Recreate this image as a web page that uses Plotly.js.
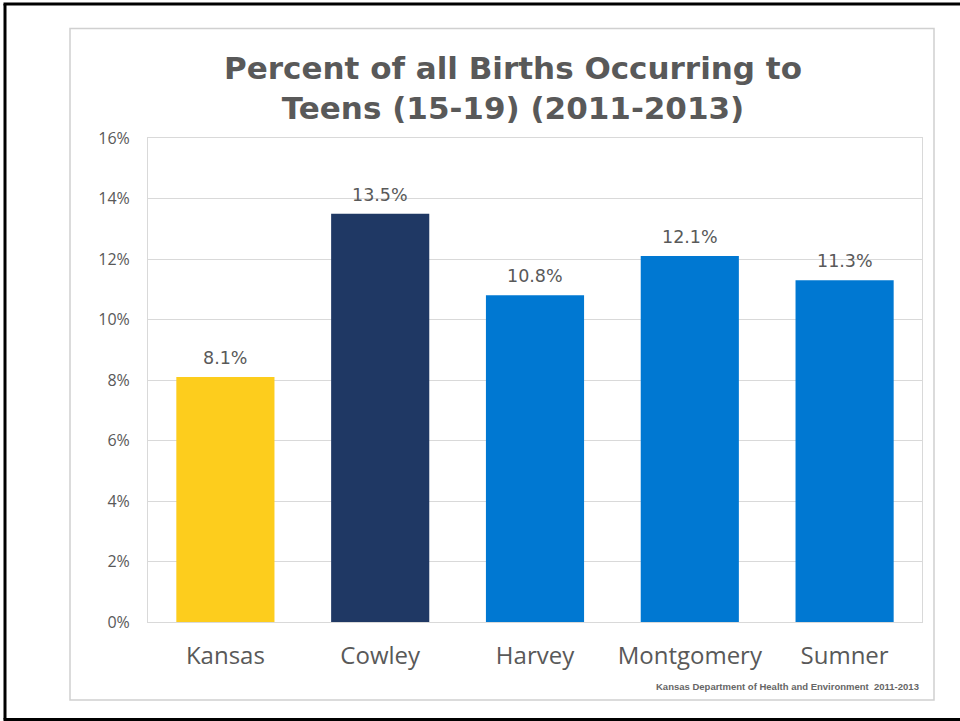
<!DOCTYPE html>
<html>
<head>
<meta charset="utf-8">
<script src="https://cdn.plot.ly/plotly-3.0.1.min.js"></script>
<style>html,body{margin:0;padding:0;background:#fff;}#chart{width:960px;height:721px;}</style>
</head>
<body>
<div id="chart"></div>
<script>
const categories = ["Kansas", "Cowley", "Harvey", "Montgomery", "Sumner"];
const values = [8.1, 13.5, 10.8, 12.1, 11.3];
const barColors = ["#FDCD1D", "#1F3864", "#0078D2", "#0078D2", "#0078D2"];
const yTickVals = [0, 2, 4, 6, 8, 10, 12, 14, 16];
const yTickText = ["0%", "2%", "4%", "6%", "8%", "10%", "12%", "14%", "16%"];
const titleText = "Percent of all Births Occurring to<br>Teens (15-19) (2011-2013)";
const sourceText = "Kansas Department of Health and Environment  2011-2013";

const W = 960, H = 721;
const M = {l: 148, r: 38, t: 138, b: 99};
const pw = W - M.l - M.r, ph = H - M.t - M.b;
const px = x => (x - M.l) / pw;
const py = y => (H - M.b - y) / ph;

const trace = {
  type: "bar",
  x: categories,
  y: values,
  marker: {color: barColors},
  hoverinfo: "none"
};

const labelAnnotations = categories.map((c, i) => ({
  x: c, y: values[i], xref: "x", yref: "y",
  text: values[i].toFixed(1) + "%",
  showarrow: false, xanchor: "center", yanchor: "bottom", yshift: 7,
  font: {family: "DejaVu Sans", size: 17.5, color: "#595959"}
}));

const layout = {
  width: W, height: H,
  margin: M,
  paper_bgcolor: "#fff", plot_bgcolor: "#fff",
  showlegend: false,
  bargap: 0.366,
  title: {
    text: titleText,
    font: {family: "DejaVu Sans", size: 31, color: "#595959", weight: "bold"},
    x: 513 / W, xref: "container", xanchor: "center",
    y: 1 - 79 / H, yref: "container", yanchor: "middle"
  },
  xaxis: {
    tickfont: {family: "Open Sans", size: 24, color: "#595959"},
    showline: true, linecolor: "#D9D9D9", linewidth: 1, mirror: true,
    ticks: "", showgrid: false, fixedrange: true, ticklabelstandoff: 12
  },
  yaxis: {
    range: [0, 16],
    tickvals: yTickVals, ticktext: yTickText,
    tickfont: {family: "Open Sans", size: 16, color: "#595959"},
    showgrid: true, gridcolor: "#D9D9D9", gridwidth: 1,
    showline: true, linecolor: "#D9D9D9", linewidth: 1, mirror: true,
    zeroline: false, ticks: "", ticklabelstandoff: 14, fixedrange: true
  },
  shapes: [
    {type: "rect", xref: "paper", yref: "paper",
     x0: px(70), x1: px(934), y0: py(700), y1: py(28.5),
     line: {color: "#D0D0D0", width: 1.5}, fillcolor: "rgba(0,0,0,0)", layer: "below"},
    {type: "line", xref: "paper", yref: "paper",
     x0: px(5), x1: px(5), y0: py(4), y1: py(719.5),
     line: {color: "#000", width: 3}},
    {type: "line", xref: "paper", yref: "paper",
     x0: px(3.5), x1: px(962), y0: py(4), y1: py(4),
     line: {color: "#000", width: 3}},
    {type: "line", xref: "paper", yref: "paper",
     x0: px(3.5), x1: px(962), y0: py(719.5), y1: py(719.5),
     line: {color: "#000", width: 3}}
  ],
  annotations: labelAnnotations.concat([
    {text: sourceText, xref: "paper", yref: "paper",
     x: px(921), y: py(686), xanchor: "right", yanchor: "middle",
     showarrow: false,
     font: {family: "Liberation Sans", size: 9.5, color: "#666", weight: "bold"}}
  ])
};

Plotly.newPlot("chart", [trace], layout, {displayModeBar: false, staticPlot: true});
</script>
</body>
</html>
